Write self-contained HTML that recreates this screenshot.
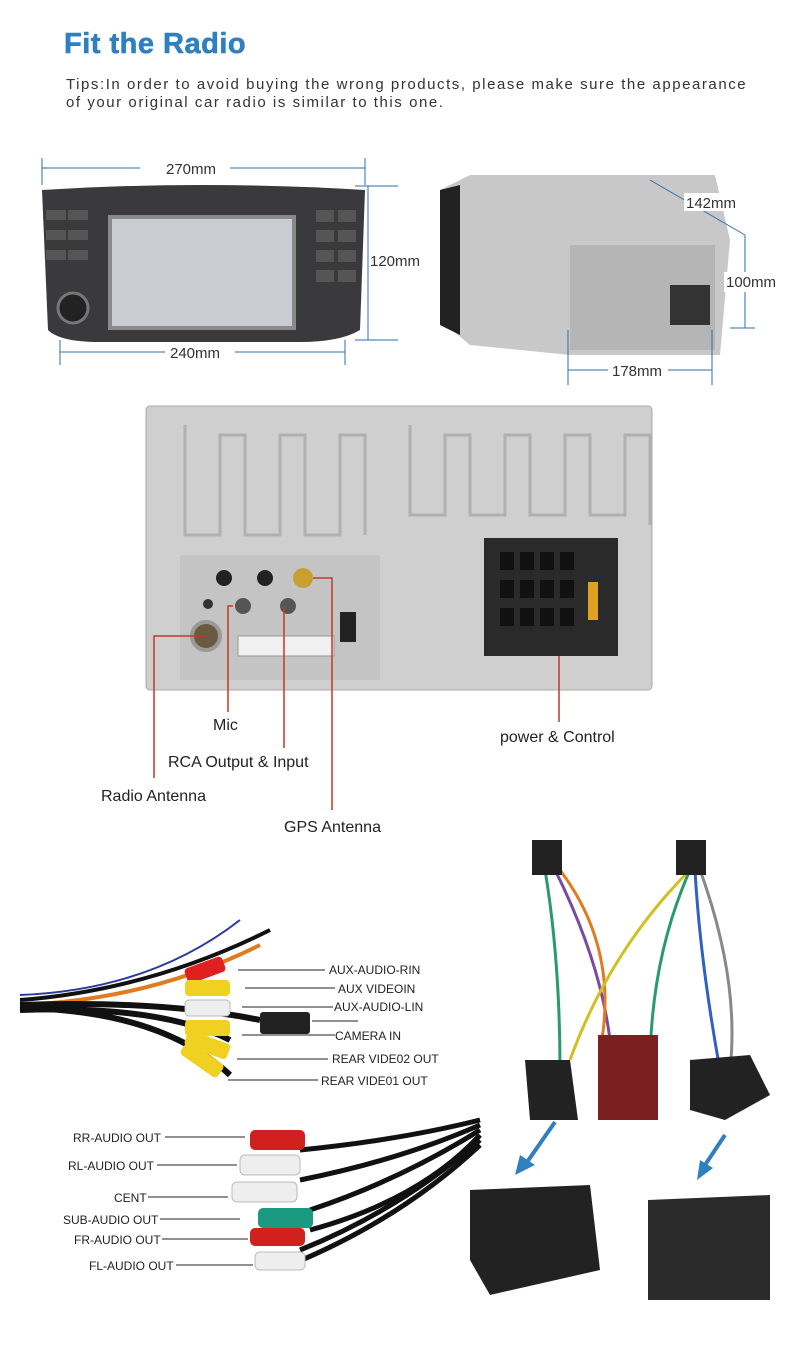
<!DOCTYPE html>
<html><head><meta charset="utf-8"><style>
body{margin:0;background:#fff;width:800px;height:1351px;overflow:hidden;font-family:"Liberation Sans",sans-serif}
</style></head><body>
<svg width="800" height="1351" xmlns="http://www.w3.org/2000/svg" font-family="Liberation Sans, sans-serif">
<text x="64" y="53" font-size="29" font-weight="bold" fill="#2f7fc1" stroke="#2f7fc1" stroke-width="0.6" letter-spacing="0.5">Fit the Radio</text>
<text x="66" y="89" font-size="15" fill="#333" letter-spacing="1.55">Tips:In order to avoid buying the wrong products, please make sure the appearance</text>
<text x="66" y="107" font-size="15" fill="#333" letter-spacing="1.55">of your original car radio is similar to this one.</text>
<!-- side view box -->
<path d="M440 190 L470 175 L715 175 L730 240 L720 355 L570 355 L470 345 L440 320 Z" fill="#c8c8c8"/>
<path d="M440 190 L460 185 L460 335 L440 325 Z" fill="#222"/>
<rect x="570" y="245" width="145" height="105" fill="#b5b5b5"/>
<rect x="670" y="285" width="40" height="40" fill="#333"/>
<!-- front radio -->
<g stroke="#2a6fb0" stroke-width="1" fill="none">
<line x1="42" y1="168" x2="365" y2="168"/><line x1="42" y1="158" x2="42" y2="185"/><line x1="365" y1="158" x2="365" y2="185"/>
<line x1="60" y1="352" x2="345" y2="352"/><line x1="60" y1="340" x2="60" y2="365"/><line x1="345" y1="340" x2="345" y2="365"/>
<line x1="368" y1="186" x2="368" y2="340"/><line x1="355" y1="186" x2="398" y2="186"/><line x1="355" y1="340" x2="398" y2="340"/>
<line x1="568" y1="370" x2="712" y2="370"/><line x1="568" y1="330" x2="568" y2="385"/><line x1="712" y1="330" x2="712" y2="385"/>
<line x1="745" y1="235" x2="745" y2="328"/><line x1="730" y1="328" x2="755" y2="328"/>
<line x1="650" y1="180" x2="745" y2="235"/>
</g>
<rect x="140" y="158" width="90" height="18" fill="#fff"/>
<text x="166" y="174" font-size="15" fill="#333">270mm</text>
<rect x="165" y="344" width="70" height="18" fill="#fff"/>
<text x="170" y="358" font-size="15" fill="#333">240mm</text>
<text x="370" y="266" font-size="15" fill="#333">120mm</text>
<rect x="684" y="193" width="58" height="18" fill="#fff"/>
<text x="686" y="208" font-size="15" fill="#333">142mm</text>
<rect x="724" y="272" width="60" height="20" fill="#fff"/>
<text x="726" y="287" font-size="15" fill="#333">100mm</text>
<rect x="608" y="362" width="60" height="18" fill="#fff"/>
<text x="612" y="376" font-size="15" fill="#333">178mm</text>
<path d="M42 190 Q200 180 365 190 L360 330 Q340 342 300 342 L100 342 Q60 342 48 330 Z" fill="#3a3a3c"/>
<rect x="108" y="215" width="188" height="115" fill="#8a8a8a"/>
<rect x="112" y="219" width="180" height="107" fill="#c9cdd2"/>
<circle cx="73" cy="308" r="15" fill="#222" stroke="#777" stroke-width="3"/>
<g fill="#555"><rect x="46" y="210" width="20" height="10"/><rect x="68" y="210" width="20" height="10"/><rect x="46" y="230" width="20" height="10"/><rect x="68" y="230" width="20" height="10"/><rect x="46" y="250" width="20" height="10"/><rect x="68" y="250" width="20" height="10"/><rect x="316" y="210" width="18" height="12"/><rect x="338" y="210" width="18" height="12"/><rect x="316" y="230" width="18" height="12"/><rect x="338" y="230" width="18" height="12"/><rect x="316" y="250" width="18" height="12"/><rect x="338" y="250" width="18" height="12"/><rect x="316" y="270" width="18" height="12"/><rect x="338" y="270" width="18" height="12"/></g>
<!-- back panel -->
<rect x="146" y="406" width="506" height="284" rx="4" fill="#cfcfcf" stroke="#aaa"/>
<g stroke="#b0b0b0" stroke-width="3" fill="none">
<path d="M185 425 v110 h35 v-100 h25 v100 h35 v-100 h25 v100 h35 v-100 h25 v100"/>
<path d="M410 425 v90 h35 v-80 h25 v80 h35 v-80 h25 v80 h35 v-80 h25 v80 h35 v-80 h25 v90"/>
</g>
<rect x="180" y="555" width="200" height="125" fill="#c4c4c4"/>
<circle cx="206" cy="636" r="14" fill="#6a5a40" stroke="#999" stroke-width="4"/>
<circle cx="224" cy="578" r="8" fill="#222"/><circle cx="265" cy="578" r="8" fill="#222"/>
<circle cx="208" cy="604" r="5" fill="#333"/><circle cx="243" cy="606" r="8" fill="#555"/><circle cx="288" cy="606" r="8" fill="#555"/>
<circle cx="303" cy="578" r="10" fill="#c9a030"/>
<rect x="238" y="636" width="96" height="20" fill="#f0f0f0" stroke="#999"/>
<rect x="340" y="612" width="16" height="30" fill="#222"/>
<rect x="484" y="538" width="134" height="118" fill="#2a2a2a"/>
<g fill="#111"><rect x="500" y="552" width="14" height="18"/><rect x="520" y="552" width="14" height="18"/><rect x="540" y="552" width="14" height="18"/><rect x="560" y="552" width="14" height="18"/><rect x="500" y="580" width="14" height="18"/><rect x="520" y="580" width="14" height="18"/><rect x="540" y="580" width="14" height="18"/><rect x="560" y="580" width="14" height="18"/><rect x="500" y="608" width="14" height="18"/><rect x="520" y="608" width="14" height="18"/><rect x="540" y="608" width="14" height="18"/><rect x="560" y="608" width="14" height="18"/></g>
<rect x="588" y="582" width="10" height="38" fill="#e0a020"/>
<g stroke="#c0392b" stroke-width="1.5" fill="none">
<polyline points="206,636 154,636 154,778"/>
<polyline points="233,606 228,606 228,712"/>
<polyline points="284,606 284,748"/>
<polyline points="313,578 332,578 332,810"/>
<line x1="559" y1="656" x2="559" y2="722"/>
</g>
<text x="213" y="730" font-size="16" fill="#222">Mic</text>
<text x="168" y="767" font-size="16" fill="#222">RCA Output &amp; Input</text>
<text x="101" y="801" font-size="16" fill="#222">Radio Antenna</text>
<text x="284" y="832" font-size="16" fill="#222">GPS Antenna</text>
<text x="500" y="742" font-size="16" fill="#222">power &amp; Control</text>
<!-- left cable bundle -->
<g stroke-width="4" fill="none">
<path d="M20 995 Q150 990 240 920" stroke="#2a3a9a" stroke-width="2"/>
<path d="M20 1000 Q150 990 270 930" stroke="#111"/>
<path d="M20 1005 Q150 1000 260 945" stroke="#e07b20"/>
<path d="M20 1010 Q160 1005 230 1040" stroke="#111" stroke-width="6"/>
<path d="M20 1008 Q160 1010 230 1075" stroke="#111" stroke-width="6"/>
<path d="M20 1005 Q160 1000 260 1020" stroke="#111" stroke-width="6"/>
</g>
<g>
<rect x="185" y="962" width="40" height="16" rx="4" fill="#e02020" transform="rotate(-20 205 970)"/>
<rect x="185" y="980" width="45" height="16" rx="4" fill="#f0d020"/>
<rect x="185" y="1000" width="45" height="16" rx="4" fill="#eee" stroke="#bbb"/>
<rect x="185" y="1020" width="45" height="16" rx="4" fill="#f0d020"/>
<rect x="185" y="1036" width="45" height="16" rx="4" fill="#f0d020" transform="rotate(20 205 1044)"/>
<rect x="180" y="1050" width="45" height="16" rx="4" fill="#f0d020" transform="rotate(35 200 1058)"/>
<rect x="260" y="1012" width="50" height="22" rx="3" fill="#222"/>
</g>
<g stroke="#222" stroke-width="1">
<line x1="238" y1="970" x2="325" y2="970"/><line x1="245" y1="988" x2="335" y2="988"/><line x1="242" y1="1007" x2="333" y2="1007"/><line x1="312" y1="1021" x2="358" y2="1021"/><line x1="242" y1="1035" x2="335" y2="1035"/><line x1="237" y1="1059" x2="328" y2="1059"/><line x1="228" y1="1080" x2="318" y2="1080"/>
</g>
<g font-size="12" fill="#222">
<text x="329" y="974">AUX-AUDIO-RIN</text><text x="338" y="993">AUX VIDEOIN</text><text x="334" y="1011">AUX-AUDIO-LIN</text>
<text x="335" y="1040">CAMERA IN</text><text x="332" y="1063">REAR VIDE02 OUT</text><text x="321" y="1085">REAR VIDE01 OUT</text>
</g>
<!-- bottom left rca -->
<g stroke-width="5" fill="none" stroke="#111">
<path d="M300 1150 Q400 1140 480 1120"/><path d="M300 1180 Q400 1160 480 1125"/><path d="M310 1210 Q400 1180 480 1130"/><path d="M310 1230 Q420 1200 480 1135"/><path d="M300 1250 Q400 1210 480 1140"/><path d="M290 1265 Q400 1220 480 1145"/>
</g>
<g>
<rect x="250" y="1130" width="55" height="20" rx="5" fill="#d02020"/>
<rect x="240" y="1155" width="60" height="20" rx="5" fill="#eee" stroke="#bbb"/>
<rect x="232" y="1182" width="65" height="20" rx="5" fill="#eee" stroke="#bbb"/>
<rect x="258" y="1208" width="55" height="20" rx="5" fill="#1a9a80"/>
<rect x="250" y="1228" width="55" height="18" rx="5" fill="#d02020"/>
<rect x="255" y="1252" width="50" height="18" rx="5" fill="#eee" stroke="#bbb"/>
</g>
<g stroke="#222" stroke-width="1">
<line x1="165" y1="1137" x2="245" y2="1137"/><line x1="157" y1="1165" x2="237" y2="1165"/><line x1="148" y1="1197" x2="228" y2="1197"/><line x1="160" y1="1219" x2="240" y2="1219"/><line x1="162" y1="1239" x2="248" y2="1239"/><line x1="176" y1="1265" x2="253" y2="1265"/>
</g>
<g font-size="12" fill="#222">
<text x="73" y="1142">RR-AUDIO OUT</text><text x="68" y="1170">RL-AUDIO OUT</text><text x="114" y="1202">CENT</text>
<text x="63" y="1224">SUB-AUDIO OUT</text><text x="74" y="1244">FR-AUDIO OUT</text><text x="89" y="1270">FL-AUDIO OUT</text>
</g>
<!-- right harness -->
<g stroke-width="3" fill="none">
<path d="M545 870 Q560 960 560 1070" stroke="#2a9a6a"/><path d="M555 870 Q600 960 610 1040" stroke="#7a4aa0"/><path d="M560 870 Q620 950 600 1050" stroke="#e07b20"/><path d="M690 870 Q650 960 650 1070" stroke="#2a9a6a"/><path d="M695 870 Q700 960 720 1070" stroke="#3060c0"/><path d="M700 870 Q740 980 730 1070" stroke="#888"/><path d="M690 870 Q610 950 570 1060" stroke="#d0c020"/>
</g>
<rect x="532" y="840" width="30" height="35" fill="#222"/><rect x="676" y="840" width="30" height="35" fill="#222"/>
<path d="M525 1060 L570 1060 L578 1120 L530 1120 Z" fill="#222"/>
<rect x="598" y="1035" width="60" height="85" fill="#7a2020"/>
<path d="M690 1060 L750 1055 L770 1095 L725 1120 L690 1110 Z" fill="#222"/>
<path d="M470 1190 L590 1185 L600 1270 L490 1295 L470 1260 Z" fill="#222"/>
<path d="M648 1200 L770 1195 L770 1300 L648 1300 Z" fill="#2a2a2a"/>
<g stroke="#2f7fc1" stroke-width="4"><line x1="555" y1="1122" x2="525" y2="1165"/><line x1="725" y1="1135" x2="705" y2="1165"/></g>
<polygon points="515,1175 520,1155 535,1165" fill="#2f7fc1"/>
<polygon points="697,1180 700,1160 713,1168" fill="#2f7fc1"/>
</svg>
</body></html>
